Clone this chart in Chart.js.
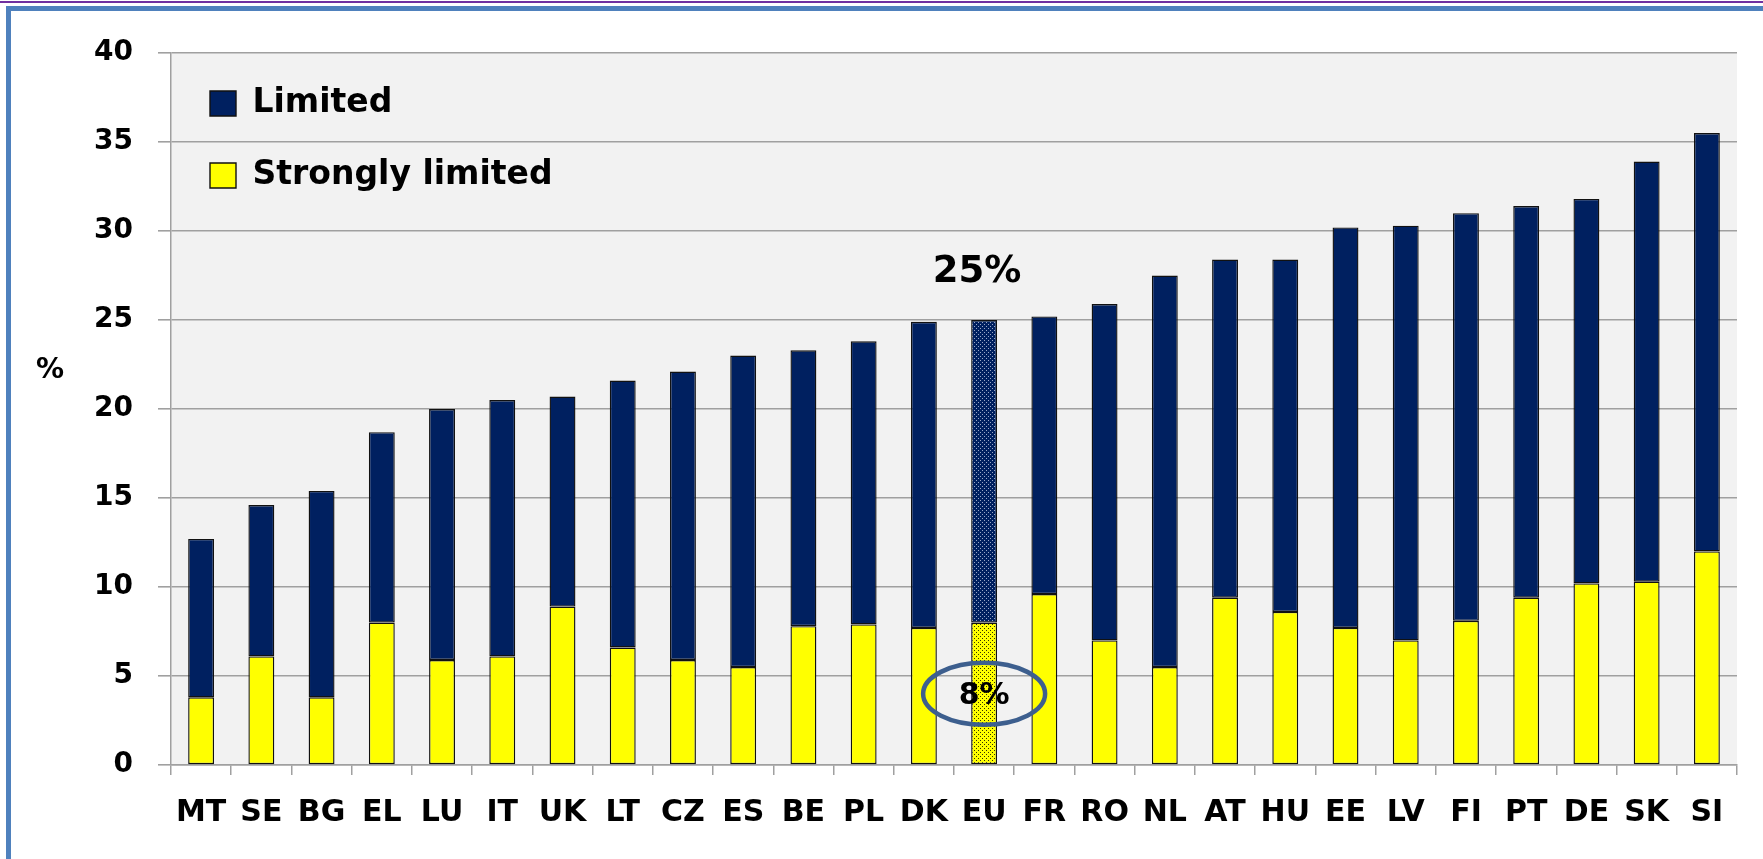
<!DOCTYPE html>
<html><head><meta charset="utf-8">
<script src="https://cdn.jsdelivr.net/npm/chart.js@4.4.0/dist/chart.umd.min.js"></script>
<style>
html,body{margin:0;padding:0;background:#fff;overflow:hidden;}
#wrap{position:relative;width:1763px;height:859px;}
canvas{position:absolute;left:0;top:0;}
.fr{position:absolute;}
</style></head><body>
<div id="wrap">
<canvas id="c" width="1763" height="859"></canvas>
<div class="fr" style="left:0;top:1px;width:1763px;height:2px;background:#7030a0"></div>
<div class="fr" style="left:6px;top:6px;width:1757px;height:5px;background:#4f81bd"></div>
<div class="fr" style="left:6px;top:6px;width:5px;height:853px;background:#4f81bd"></div>
</div>
<script>
const categories = ['MT','SE','BG','EL','LU','IT','UK','LT','CZ','ES','BE','PL','DK','EU','FR','RO','NL','AT','HU','EE','LV','FI','PT','DE','SK','SI'];
const stronglyLimited = [3.8,6.1,3.8,8.0,5.9,6.1,8.9,6.6,5.9,5.5,7.8,7.9,7.7,8.0,9.6,7.0,5.5,9.4,8.6,7.7,7.0,8.1,9.4,10.2,10.3,12.0];
const limited = [8.9,8.5,11.6,10.7,14.1,14.4,11.8,15.0,16.2,17.5,15.5,15.9,17.2,17.0,15.6,18.9,22.0,19.0,19.8,22.5,23.3,22.9,22.0,21.6,23.6,23.5];
const euTotalLabel = '25%';
const euStrongLabel = '8%';
const highlightCategory = 'EU';
const yMin = 0, yMax = 40, yStep = 5;

const FONT = '"DejaVu Sans"';
const NAVY = '#002060';
const YELLOW = '#ffff00';
const hi = categories.indexOf(highlightCategory);

function makePattern(bg, dot) {
  const c = document.createElement('canvas');
  c.width = 4; c.height = 4;
  const g = c.getContext('2d');
  g.fillStyle = bg; g.fillRect(0, 0, 4, 4);
  g.fillStyle = dot; g.fillRect(0, 0, 1, 1); g.fillRect(2, 2, 1, 1);
  return g.createPattern(c, 'repeat');
}
const navyPat = makePattern(NAVY, '#9aa8c8');
const yellowPat = makePattern(YELLOW, '#333300');

const bgPlugin = {
  id: 'plotBg',
  beforeDraw(chart) {
    const {ctx, chartArea: a} = chart;
    ctx.save();
    ctx.fillStyle = '#f2f2f2';
    ctx.fillRect(a.left, a.top, a.right - a.left, a.bottom - a.top);
    ctx.restore();
  }
};

const annotPlugin = {
  id: 'annot',
  afterDraw(chart) {
    const {ctx, chartArea: a} = chart;
    const x = chart.scales.x, y = chart.scales.y;
    ctx.save();
    ctx.fillStyle = '#000';
    ctx.textAlign = 'center';
    ctx.textBaseline = 'middle';
    // "%" axis title
    ctx.font = 'bold 28px ' + FONT;
    ctx.fillText('%', 50, (a.top + a.bottom) / 2 - 38);
    // total annotation
    const cx = x.getPixelForValue(hi);
    const total = stronglyLimited[hi] + limited[hi];
    ctx.font = 'bold 37px ' + FONT;
    ctx.fillText(euTotalLabel, cx - 7, y.getPixelForValue(total) - 48);
    // strongly annotation with ellipse
    const ey = y.getPixelForValue(stronglyLimited[hi] / 2);
    ctx.font = 'bold 30px ' + FONT;
    ctx.fillText(euStrongLabel, cx, ey + 2);
    ctx.beginPath();
    ctx.ellipse(cx, ey, 61, 31, 0, 0, Math.PI * 2);
    ctx.lineWidth = 4.5;
    ctx.strokeStyle = '#3d5f8e';
    ctx.stroke();
    ctx.restore();
  }
};

new Chart(document.getElementById('c'), {
  type: 'bar',
  data: {
    labels: categories,
    datasets: [
      {
        label: 'Strongly limited',
        data: stronglyLimited,
        backgroundColor: (c) => c.dataIndex === hi ? yellowPat : YELLOW,
        borderColor: '#111',
        borderWidth: 1.4,
        borderSkipped: false,
        categoryPercentage: 1,
        barPercentage: 0.43
      },
      {
        label: 'Limited',
        data: limited,
        backgroundColor: (c) => c.dataIndex === hi ? navyPat : NAVY,
        borderColor: '#111',
        borderWidth: 1.4,
        borderSkipped: false,
        categoryPercentage: 1,
        barPercentage: 0.43
      }
    ]
  },
  options: {
    responsive: false,
    animation: false,
    devicePixelRatio: 1,
    layout: { padding: { left: 0, top: 53, right: 26, bottom: 0 } },
    plugins: {
      legend: {
        position: 'chartArea',
        align: 'start',
        reverse: true,
        title: { display: true, text: '', padding: { top: 36, bottom: 0 }, font: { size: 10 } },
        labels: {
          color: '#000',
          font: { family: FONT, size: 33, weight: 'bold' },
          boxWidth: 26,
          boxHeight: 25,
          padding: 39
        }
      },
      tooltip: { enabled: false }
    },
    scales: {
      x: {
        stacked: true,
        offset: true,
        grid: { display: true, drawOnChartArea: false, offset: true, tickLength: 10, color: '#a0a0a0', lineWidth: 1.5 },
        border: { color: '#a0a0a0', width: 1.5 },
        ticks: { color: '#000', padding: 20, maxRotation: 0, autoSkip: false, font: { family: FONT, size: 30, weight: 'bold' } },
        afterFit(s) { s.height = 94; }
      },
      y: {
        stacked: true,
        min: yMin, max: yMax,
        grid: { color: '#a0a0a0', lineWidth: 1.6, tickLength: 13 },
        border: { color: '#a0a0a0', width: 1.5 },
        ticks: { stepSize: yStep, color: '#000', padding: 25, font: { family: FONT, size: 28, weight: 'bold' } },
        afterFit(s) { s.width = 171; }
      }
    }
  },
  plugins: [bgPlugin, annotPlugin]
});
</script>
</body></html>
